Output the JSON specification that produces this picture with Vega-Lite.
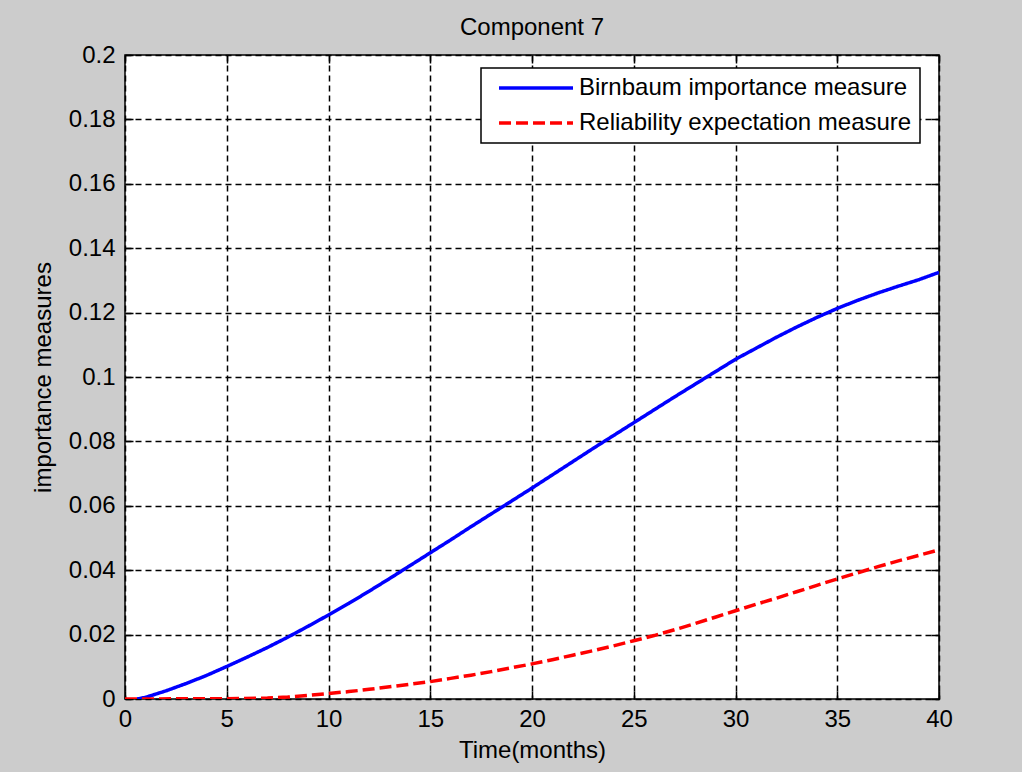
{
  "$schema": "https://vega.github.io/schema/vega-lite/v6.json",
  "width": 814,
  "height": 644,
  "autosize": {"type": "none"},
  "padding": {"left": 125, "top": 55, "right": 83, "bottom": 73},
  "background": "#cccccc",
  "title": {"text": "Component 7", "fontSize": 24, "font": "Liberation Sans", "fontWeight": "normal", "color": "#000000", "anchor": "middle", "offset": 3},
  "datasets": {
    "curves": [
      {"t": 0.6, "v": 0.0, "series": "Birnbaum importance measure"},
      {"t": 1, "v": 0.0005, "series": "Birnbaum importance measure"},
      {"t": 2, "v": 0.0025, "series": "Birnbaum importance measure"},
      {"t": 3, "v": 0.0048, "series": "Birnbaum importance measure"},
      {"t": 4, "v": 0.0073, "series": "Birnbaum importance measure"},
      {"t": 5, "v": 0.0101, "series": "Birnbaum importance measure"},
      {"t": 6, "v": 0.0130, "series": "Birnbaum importance measure"},
      {"t": 7, "v": 0.0160, "series": "Birnbaum importance measure"},
      {"t": 8, "v": 0.0192, "series": "Birnbaum importance measure"},
      {"t": 9, "v": 0.0226, "series": "Birnbaum importance measure"},
      {"t": 10, "v": 0.0261, "series": "Birnbaum importance measure"},
      {"t": 11, "v": 0.0297, "series": "Birnbaum importance measure"},
      {"t": 12, "v": 0.0335, "series": "Birnbaum importance measure"},
      {"t": 13, "v": 0.0374, "series": "Birnbaum importance measure"},
      {"t": 14, "v": 0.0414, "series": "Birnbaum importance measure"},
      {"t": 15, "v": 0.0454, "series": "Birnbaum importance measure"},
      {"t": 16, "v": 0.0494, "series": "Birnbaum importance measure"},
      {"t": 17, "v": 0.0535, "series": "Birnbaum importance measure"},
      {"t": 18, "v": 0.0575, "series": "Birnbaum importance measure"},
      {"t": 19, "v": 0.0615, "series": "Birnbaum importance measure"},
      {"t": 20, "v": 0.0655, "series": "Birnbaum importance measure"},
      {"t": 21, "v": 0.0696, "series": "Birnbaum importance measure"},
      {"t": 22, "v": 0.0737, "series": "Birnbaum importance measure"},
      {"t": 23, "v": 0.0778, "series": "Birnbaum importance measure"},
      {"t": 24, "v": 0.0818, "series": "Birnbaum importance measure"},
      {"t": 25, "v": 0.0858, "series": "Birnbaum importance measure"},
      {"t": 26, "v": 0.0898, "series": "Birnbaum importance measure"},
      {"t": 27, "v": 0.0938, "series": "Birnbaum importance measure"},
      {"t": 28, "v": 0.0977, "series": "Birnbaum importance measure"},
      {"t": 29, "v": 0.1016, "series": "Birnbaum importance measure"},
      {"t": 30, "v": 0.1055, "series": "Birnbaum importance measure"},
      {"t": 31, "v": 0.1089, "series": "Birnbaum importance measure"},
      {"t": 32, "v": 0.1123, "series": "Birnbaum importance measure"},
      {"t": 33, "v": 0.1155, "series": "Birnbaum importance measure"},
      {"t": 34, "v": 0.1185, "series": "Birnbaum importance measure"},
      {"t": 35, "v": 0.1213, "series": "Birnbaum importance measure"},
      {"t": 36, "v": 0.1238, "series": "Birnbaum importance measure"},
      {"t": 37, "v": 0.1261, "series": "Birnbaum importance measure"},
      {"t": 38, "v": 0.1282, "series": "Birnbaum importance measure"},
      {"t": 39, "v": 0.1302, "series": "Birnbaum importance measure"},
      {"t": 40, "v": 0.1325, "series": "Birnbaum importance measure"},
      {"t": 0, "v": 0.0, "series": "Reliability expectation measure"},
      {"t": 5, "v": 0.0001, "series": "Reliability expectation measure"},
      {"t": 7, "v": 0.0003, "series": "Reliability expectation measure"},
      {"t": 8, "v": 0.0006, "series": "Reliability expectation measure"},
      {"t": 9, "v": 0.0011, "series": "Reliability expectation measure"},
      {"t": 10, "v": 0.0017, "series": "Reliability expectation measure"},
      {"t": 11, "v": 0.0023, "series": "Reliability expectation measure"},
      {"t": 12, "v": 0.0030, "series": "Reliability expectation measure"},
      {"t": 13, "v": 0.0038, "series": "Reliability expectation measure"},
      {"t": 14, "v": 0.0046, "series": "Reliability expectation measure"},
      {"t": 15, "v": 0.0054, "series": "Reliability expectation measure"},
      {"t": 16, "v": 0.0064, "series": "Reliability expectation measure"},
      {"t": 17, "v": 0.0074, "series": "Reliability expectation measure"},
      {"t": 18, "v": 0.0085, "series": "Reliability expectation measure"},
      {"t": 19, "v": 0.0097, "series": "Reliability expectation measure"},
      {"t": 20, "v": 0.0109, "series": "Reliability expectation measure"},
      {"t": 21, "v": 0.0122, "series": "Reliability expectation measure"},
      {"t": 22, "v": 0.0136, "series": "Reliability expectation measure"},
      {"t": 23, "v": 0.0150, "series": "Reliability expectation measure"},
      {"t": 24, "v": 0.0165, "series": "Reliability expectation measure"},
      {"t": 25, "v": 0.0181, "series": "Reliability expectation measure"},
      {"t": 26, "v": 0.0197, "series": "Reliability expectation measure"},
      {"t": 27, "v": 0.0215, "series": "Reliability expectation measure"},
      {"t": 28, "v": 0.0234, "series": "Reliability expectation measure"},
      {"t": 29, "v": 0.0254, "series": "Reliability expectation measure"},
      {"t": 30, "v": 0.0274, "series": "Reliability expectation measure"},
      {"t": 31, "v": 0.0294, "series": "Reliability expectation measure"},
      {"t": 32, "v": 0.0313, "series": "Reliability expectation measure"},
      {"t": 33, "v": 0.0333, "series": "Reliability expectation measure"},
      {"t": 34, "v": 0.0353, "series": "Reliability expectation measure"},
      {"t": 35, "v": 0.0373, "series": "Reliability expectation measure"},
      {"t": 36, "v": 0.0392, "series": "Reliability expectation measure"},
      {"t": 37, "v": 0.0411, "series": "Reliability expectation measure"},
      {"t": 38, "v": 0.0429, "series": "Reliability expectation measure"},
      {"t": 39, "v": 0.0446, "series": "Reliability expectation measure"},
      {"t": 40, "v": 0.0463, "series": "Reliability expectation measure"}
    ]
  },
  "data": {"name": "curves"},
  "encoding": {
    "color": {
      "field": "series", "type": "nominal",
      "scale": {"domain": ["Birnbaum importance measure", "Reliability expectation measure"], "range": ["#0000ff", "#ff0000"]},
      "legend": {"title": null, "orient": "none", "legendX": 356, "legendY": 13}
    },
    "strokeDash": {
      "field": "series", "type": "nominal",
      "scale": {"domain": ["Birnbaum importance measure", "Reliability expectation measure"], "range": [[1, 0], [12, 5]]},
      "legend": {"title": null, "orient": "none", "legendX": 356, "legendY": 13}
    }
  },
  "layer": [
    {
      "transform": [{"filter": "datum.series == 'Birnbaum importance measure'"}],
      "mark": {"type": "line", "strokeWidth": 3.5, "clip": true},
      "encoding": {
        "x": {"field": "t", "type": "quantitative", "title": "Time(months)",
          "scale": {"domain": [0, 40], "nice": false, "zero": false},
          "axis": {"orient": "bottom", "values": [0, 5, 10, 15, 20, 25, 30, 35, 40], "grid": true, "tickSize": -8, "labelPadding": 16, "titlePadding": 7, "labelFlush": false}},
        "y": {"field": "v", "type": "quantitative", "title": "importance measures",
          "scale": {"domain": [0, 0.2], "nice": false},
          "axis": {"orient": "left", "values": [0, 0.02, 0.04, 0.06, 0.08, 0.1, 0.12, 0.14, 0.16, 0.18, 0.2], "format": "~g", "grid": true, "tickSize": -8, "labelPadding": 18, "titlePadding": 13, "labelFlush": false}}
      }
    },
    {
      "transform": [{"filter": "datum.series == 'Reliability expectation measure'"}],
      "mark": {"type": "line", "strokeWidth": 3.5, "clip": true},
      "encoding": {
        "x": {"field": "t", "type": "quantitative",
          "axis": {"orient": "top", "values": [0, 5, 10, 15, 20, 25, 30, 35, 40], "grid": false, "labels": false, "title": null, "tickSize": -8}},
        "y": {"field": "v", "type": "quantitative",
          "axis": {"orient": "right", "values": [0, 0.02, 0.04, 0.06, 0.08, 0.1, 0.12, 0.14, 0.16, 0.18, 0.2], "grid": false, "labels": false, "title": null, "tickSize": -8}}
      }
    }
  ],
  "config": {
    "view": {"stroke": "#000000", "strokeWidth": 1.5, "fill": "#ffffff"},
    "axis": {
      "domain": false,
      "tickColor": "#000000", "tickWidth": 1.5,
      "gridColor": "#000000", "gridOpacity": 1, "gridWidth": 1.5, "gridDash": [6, 4],
      "labelFont": "Liberation Sans", "labelFontSize": 24, "labelColor": "#000000",
      "titleFont": "Liberation Sans", "titleFontSize": 24, "titleColor": "#000000", "titleFontWeight": "normal"
    },
    "legend": {
      "fillColor": "#ffffff", "strokeColor": "#000000", "strokeWidth": 1.5,
      "padding": 8, "rowPadding": 11, "symbolType": "M-4,0H4", "symbolSize": 342, "symbolStrokeWidth": 3.5,
      "symbolOffset": 35, "labelOffset": 31,
      "labelFont": "Liberation Sans", "labelFontSize": 24, "labelColor": "#000000", "labelLimit": 0
    }
  }
}
